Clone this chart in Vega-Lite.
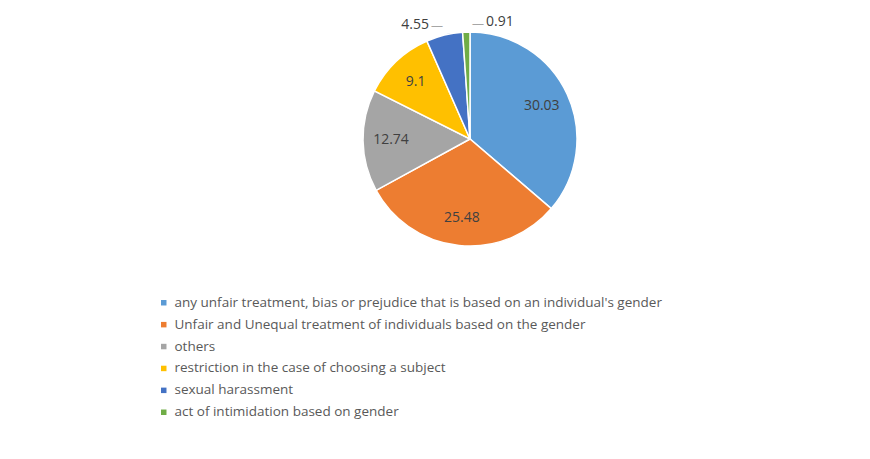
{
  "$schema": "https://vega.github.io/schema/vega-lite/v6.json",
  "width": 800,
  "height": 278,
  "autosize": {"type": "none"},
  "padding": {"left": 70, "top": 0, "right": 0, "bottom": 181},
  "background": "white",
  "config": {"view": {"stroke": null}, "font": "Open Sans"},
  "data": {
    "values": [
      {"category": "any unfair treatment, bias or prejudice that is based on an individual's gender", "value": 30.03},
      {"category": "Unfair and Unequal treatment of individuals based on the gender", "value": 25.48},
      {"category": "others", "value": 12.74},
      {"category": "restriction in the case of choosing a subject", "value": 9.1},
      {"category": "sexual harassment", "value": 4.55},
      {"category": "act of intimidation based on gender", "value": 0.91}
    ]
  },
  "encoding": {
    "theta": {"field": "value", "type": "quantitative", "stack": true},
    "order": {"field": "value", "type": "quantitative", "sort": "descending"}
  },
  "layer": [
    {
      "mark": {"type": "arc", "outerRadius": 107, "stroke": "white", "strokeWidth": 1.5},
      "encoding": {
        "color": {
          "field": "category",
          "type": "nominal",
          "scale": {
            "domain": [
              "any unfair treatment, bias or prejudice that is based on an individual's gender",
              "Unfair and Unequal treatment of individuals based on the gender",
              "others",
              "restriction in the case of choosing a subject",
              "sexual harassment",
              "act of intimidation based on gender"
            ],
            "range": ["#5B9BD5", "#ED7D31", "#A5A5A5", "#FFC000", "#4472C4", "#70AD47"]
          },
          "legend": {
            "title": null,
            "orient": "none",
            "legendX": 87,
            "legendY": 296,
            "symbolType": "square",
            "symbolSize": 30,
            "symbolStrokeWidth": 0,
            "labelFontSize": 13.5,
            "labelColor": "#595959",
            "labelFont": "Open Sans",
            "labelOffset": 4,
            "rowPadding": 6.9,
            "labelLimit": 700,
            "padding": 0
          }
        }
      }
    },
    {
      "mark": {"type": "text", "radius": 79, "fontSize": 14, "fill": "#404040"},
      "encoding": {
        "text": {"condition": {"test": "datum.value < 5", "value": ""}, "field": "value", "type": "quantitative"}
      }
    },
    {
      "mark": {"type": "text", "radius": 117, "fontSize": 14, "fill": "#404040", "align": "right", "dx": -13},
      "encoding": {
        "text": {"condition": {"test": "datum.value != 4.55", "value": ""}, "field": "value", "type": "quantitative"}
      }
    },
    {
      "mark": {"type": "text", "radius": 117, "fontSize": 14, "fill": "#404040", "align": "left", "dx": 20},
      "encoding": {
        "text": {"condition": {"test": "datum.value != 0.91", "value": ""}, "field": "value", "type": "quantitative"}
      }
    },
    {
      "mark": {"type": "text", "radius": 117, "fontSize": 12, "fill": "#A6A6A6", "align": "right", "dx": 1, "dy": 1},
      "encoding": {
        "text": {"condition": {"test": "datum.value == 4.55", "value": "—"}, "value": ""}
      }
    },
    {
      "mark": {"type": "text", "radius": 117, "fontSize": 12, "fill": "#A6A6A6", "align": "left", "dx": 6, "dy": 2},
      "encoding": {
        "text": {"condition": {"test": "datum.value == 0.91", "value": "—"}, "value": ""}
      }
    }
  ]
}
